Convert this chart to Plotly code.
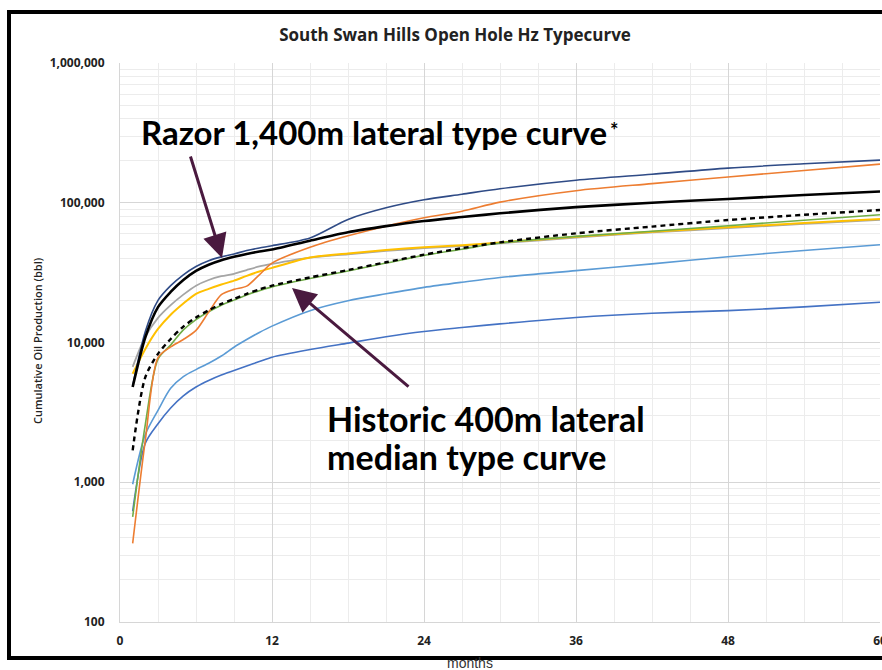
import plotly.graph_objects as go

# ---------------- data ----------------
months = [1, 2, 3, 4, 5, 6, 7, 8, 9, 10, 11, 12, 15, 18, 21, 24, 27, 30, 36, 42, 48, 54, 60]

well_navy = [4900, 12000, 20000, 25500, 30500, 35000, 38500, 41000, 43000, 45500, 47500, 49300,
             56000, 76000, 92000, 105000, 115000, 126000, 145000, 160000, 177000, 190000, 202000]
well_orange = [365, 2000, 7800, 9300, 10500, 12200, 16500, 22000, 24000, 25300, 30500, 37000,
               48000, 58000, 68000, 78000, 87000, 101000, 122000, 137000, 153000, 170000, 189000]
well_gray = [6700, 11000, 15000, 18500, 22000, 25500, 28000, 29800, 31000, 33000, 35000, 36500,
             40500, 42800, 45200, 47300, 49000, 51300, 56300, 61300, 65800, 70500, 75500]
well_yellow = [5970, 9000, 12500, 15800, 19000, 22300, 24200, 26000, 27700, 30000, 32200, 34200,
               40600, 43400, 45900, 48000, 49600, 52000, 57100, 62100, 66700, 71500, 76600]
well_green = [565, 2600, 7600, 9600, 12300, 14600, 16600, 18500, 20100, 21900, 23500, 25000,
              28700, 32500, 37000, 42000, 46500, 51500, 57500, 62500, 68500, 75000, 82000]
well_lightblue = [968, 2200, 3270, 4700, 5700, 6400, 7100, 8000, 9250, 10500, 11800, 13100,
                  16900, 19900, 22300, 24800, 27000, 29200, 32700, 36500, 41100, 45500, 50100]
well_blue = [620, 1900, 2620, 3400, 4150, 4800, 5350, 5850, 6310, 6800, 7300, 7850,
             8900, 9900, 11000, 12000, 12800, 13600, 15100, 16200, 16900, 18000, 19400]
razor_type_curve = [4800, 10900, 17900, 23000, 28000, 32500, 36000, 38800, 41000, 43000, 44800, 46300,
                    53500, 61500, 68000, 74000, 79000, 84000, 93000, 100000, 106500, 113500, 120500]
historic_median = [1690, 5650, 8300, 10600, 13000, 15100, 17000, 18900, 20500, 22300, 24000, 25500,
                   29200, 33000, 37500, 42500, 47300, 52100, 60400, 67500, 75200, 82000, 88700]

x_tick_vals = [0, 12, 24, 36, 48, 60]
y_tick_vals = [100, 1000, 10000, 100000, 1000000]
y_tick_text = ["100", "1,000", "10,000", "100,000", "1,000,000"]
y_minor_vals = [m * d for d in [100, 1000, 10000, 100000] for m in range(2, 10)]

# ---------------- figure ----------------
fig = go.Figure()

series = [
    (well_blue, "#4472C4", 1.6, "solid"),
    (well_lightblue, "#5B9BD5", 1.6, "solid"),
    (well_gray, "#A5A5A5", 1.8, "solid"),
    (well_yellow, "#FFC000", 2.0, "solid"),
    (well_green, "#70AD47", 1.6, "solid"),
    (well_orange, "#ED7D31", 1.6, "solid"),
    (well_navy, "#2F4B86", 1.6, "solid"),
    (historic_median, "#000000", 2.4, "5px,4px"),
    (razor_type_curve, "#000000", 2.6, "solid"),
]
for vals, col, w, dash in series:
    fig.add_trace(go.Scatter(
        x=months, y=vals, mode="lines",
        line=dict(color=col, width=w, dash=dash, shape="spline", smoothing=0.8),
        showlegend=False, hoverinfo="skip"))

tick_font = dict(family="Open Sans", size=12, color="#222222", weight="bold")

fig.update_xaxes(
    range=[0, 60], tickvals=x_tick_vals, tickfont=tick_font,
    showgrid=True, gridcolor="#d6d6d6", gridwidth=1,
    minor=dict(dtick=3, showgrid=True, gridcolor="#ececec", gridwidth=1),
    showline=True, linecolor="#d6d6d6", linewidth=1, zeroline=False,
    ticks="", ticklabelstandoff=8, ticklabeloverflow="allow",
)
fig.update_yaxes(
    type="log", range=[2, 6], tickvals=y_tick_vals, ticktext=y_tick_text, tickfont=tick_font,
    showgrid=True, gridcolor="#d6d6d6", gridwidth=1,
    minor=dict(tickmode="array", tickvals=y_minor_vals, showgrid=True, gridcolor="#ececec", gridwidth=1),
    showline=True, linecolor="#d6d6d6", linewidth=1, zeroline=False,
    ticks="", ticklabelstandoff=12,
)

W, H = 882, 670
L, R, T, B = 120, 2, 63, 48
pw, ph = W - L - R, H - T - B


def px(xp):
    return (xp - L) / pw


def py(yp):
    return (H - B - yp) / ph


arrow_col = "#4A1A3F"
ann_font = dict(family="Lato", size=33, color="#000000", weight="bold")

fig.update_layout(
    width=W, height=H,
    margin=dict(l=L, r=R, t=T, b=B, autoexpand=False),
    paper_bgcolor="white", plot_bgcolor="white",
    title=dict(text="South Swan Hills Open Hole Hz Typecurve",
               x=455 / W, xanchor="center", y=1 - 35 / H, yanchor="middle",
               font=dict(family="Open Sans", size=17, color="#222222", weight="bold")),
    shapes=[dict(type="rect", xref="paper", yref="paper",
                 x0=px(9), x1=px(886), y0=py(658), y1=py(12),
                 line=dict(color="black", width=4), fillcolor="rgba(0,0,0,0)", layer="above")],
    annotations=[
        dict(text="Razor 1,400m lateral type curve", xref="paper", yref="paper",
             x=px(139), y=py(132), xanchor="left", yanchor="middle",
             showarrow=False, font=ann_font),
        dict(text="*", xref="paper", yref="paper",
             x=px(614), y=py(130), xanchor="center", yanchor="middle",
             showarrow=False, font=dict(family="Lato", size=20, color="#000000", weight="bold")),
        dict(text="Historic 400m lateral", xref="paper", yref="paper",
             x=px(325), y=py(418), xanchor="left", yanchor="middle", align="left",
             showarrow=False, font=dict(family="Lato", size=34, color="#000000", weight="bold")),
        dict(text="median type curve", xref="paper", yref="paper",
             x=px(325), y=py(456), xanchor="left", yanchor="middle", align="left",
             showarrow=False, font=dict(family="Lato", size=34, color="#000000", weight="bold")),
        dict(text="", xref="paper", yref="paper", x=px(222), y=py(258),
             ax=-32, ay=-103, showarrow=True, arrowhead=2, arrowsize=1.6,
             arrowwidth=3, arrowcolor=arrow_col, standoff=0),
        dict(text="", xref="paper", yref="paper", x=px(292), y=py(288),
             ax=118, ay=100, showarrow=True, arrowhead=2, arrowsize=1.6,
             arrowwidth=3, arrowcolor=arrow_col, standoff=0),
        dict(text="Cumulative Oil Production (bbl)", xref="paper", yref="paper",
             x=px(37), y=py(341), textangle=-90, xanchor="center", yanchor="middle",
             showarrow=False, font=dict(family="Open Sans", size=11, color="#222222", weight=600)),
        dict(text="months", xref="paper", yref="paper",
             x=px(470), y=py(663), xanchor="center", yanchor="middle",
             showarrow=False, font=dict(family="Liberation Sans", size=14, color="#333333")),
    ],
)

fig.write_html("out.html", config={"displayModeBar": False},
               post_script="document.body.style.margin='0';document.body.style.overflow='hidden';")
